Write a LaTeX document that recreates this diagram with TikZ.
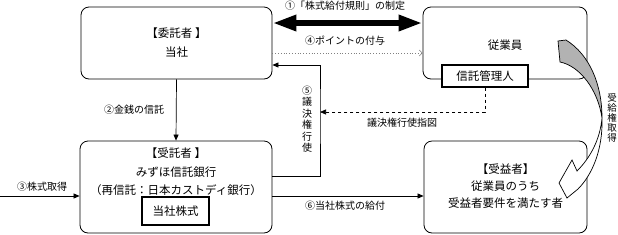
\documentclass[tikz,border=0pt]{standalone}
\usepackage{fontspec}
\setmainfont{Noto Sans CJK JP}
\usetikzlibrary{arrows.meta}

\begin{document}
\begin{tikzpicture}[x=1pt, y=-1pt,
    box/.style 2 args={draw, line width=0.8pt, rounded corners=8pt, inner sep=0pt,
        minimum width=#1, minimum height=#2},
    sqbox/.style 2 args={draw, line width=1.3pt, fill=white, inner sep=0pt,
        minimum width=#1, minimum height=#2},
    btxt/.style={align=center, inner sep=0pt, font=\fontsize{11.5}{19}\selectfont},
    lbl/.style={inner sep=0pt, font=\fontsize{10}{12}\selectfont},
    arr/.style={draw, line width=0.7pt, -{Triangle[length=6pt,width=5pt]}}]
    \useasboundingbox (0,0) rectangle (618,234);

    % 箱
    \node[box={191pt}{72pt}] (itaku) at (176.5,43) {};
    \node[btxt] (itakutxt) at (176.5,43) {【委託者 】\\当社};
    \node[box={164pt}{72pt}] (jugyo) at (505,43) {};
    \node[btxt] (jugyotxt) at (505,45) {従業員};
    \node[sqbox={86pt}{22pt}, btxt] (kanri) at (485,76) {信託管理人};

    \node[box={192pt}{92pt}] (jutaku) at (176,187) {};
    \node[btxt, font=\fontsize{11.5}{18.5}\selectfont] (jutakutxt) at (176,172)
        {【受託者 】\\みずほ信託銀行\\（再信託：日本カストディ銀行）};
    \node[sqbox={67pt}{28pt}, btxt] (kabu) at (175.5,211) {当社株式};
    \node[box={163pt}{92pt}] (juek) at (505.5,187) {};
    \node[btxt, font=\fontsize{11.5}{17}\selectfont] (juektxt) at (505.5,186.5)
        {【受益者】\\従業員のうち\\受益者要件を満たす者};

    % 矢印
    \draw[line width=6pt, {Triangle[length=24pt,width=15pt]}-{Triangle[length=24pt,width=15pt]}]
        ([yshift=20pt]itaku.east) -- ([yshift=20pt]jugyo.west);
    \node[lbl] (seido) at (345,6) {①「株式給付規則」の制定};

    \draw[gray, dotted, line width=0.8pt, -{Straight Barb[length=3pt,width=6pt,line width=0.6pt]}]
        ([yshift=-10pt]itaku.east) -- ([yshift=-10pt]jugyo.west);
    \node[lbl] (point) at (345,41) {④ポイントの付与};

    \draw[arr] (itaku.south) -- (jutaku.north);
    \node[lbl] (kinsen) at (134,110) {②金銭の信託};

    \coordinate (start3) at (0,196);
    \draw[arr] (start3) -- (start3 -| jutaku.west);
    \node[lbl] (shutoku) at (42,187) {③株式取得};

    \draw[arr] ([yshift=-9pt]jutaku.east) -- ([yshift=-9pt]juek.west);
    \node[lbl] (kyufu) at (345,206) {⑥当社株式の給付};

    \coordinate (tate) at (320,112);
    \draw[arr] ([yshift=11pt]jutaku.east) -| (tate) |- ([yshift=-22pt]itaku.east);
    \node[lbl, align=center, font=\fontsize{10}{11.5}\selectfont] (koshi) at (307,119)
        {⑤\\議\\決\\権\\行\\使};

    \draw[arr, dashed] (kanri.south) |- (tate);
    \node[lbl] (sashizu) at (402,123) {議決権行使指図};

    % 受給権取得の曲がった矢印
    \draw[line width=0.7pt, fill=gray!60] (558,41) -- (566,40)
        .. controls (590,55) and (602,85) .. (602,118)
        .. controls (598,90) and (580,66) .. (560,62) -- cycle;
    \draw[line width=0.7pt, fill=white] (602,118)
        .. controls (603,150) and (592,175) .. (578,189)
        -- (567,198) -- (559,183) -- (572,160) -- (577,171)
        .. controls (590,158) and (600,140) .. (602,118) -- cycle;
    \node[lbl, align=center, font=\fontsize{9.5}{10}\selectfont] (jukyu) at (612,118)
        {受\\給\\権\\取\\得};
\end{tikzpicture}
\end{document}
